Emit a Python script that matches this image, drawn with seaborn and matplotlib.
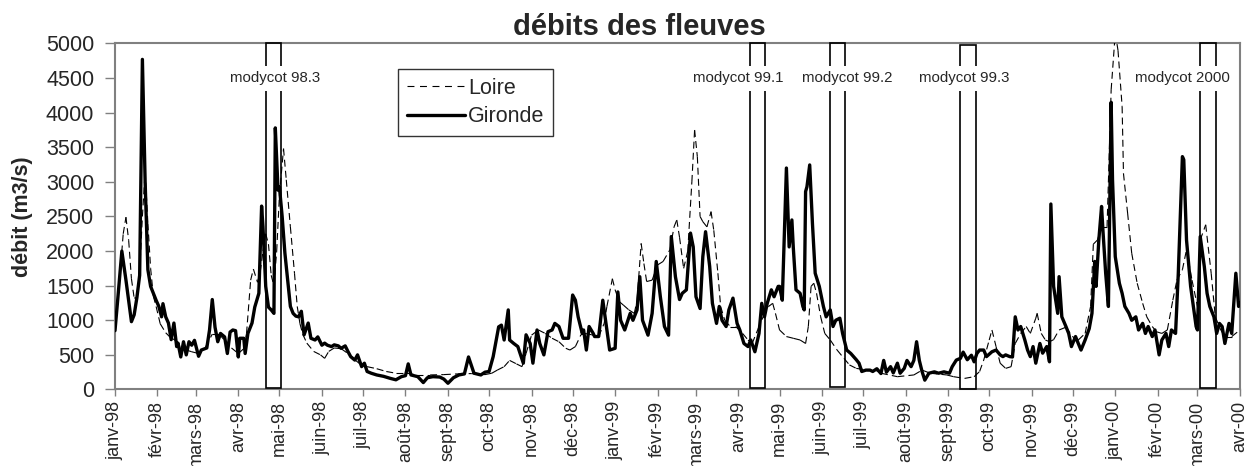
import numpy as np
import pandas as pd
import matplotlib
matplotlib.use('Agg')
import matplotlib.pyplot as plt
import matplotlib.dates as mdates
from matplotlib.lines import Line2D
from matplotlib.patches import Rectangle
import seaborn as sns

start = pd.Timestamp('1998-01-01')

# jours depuis le 1er janvier 1998, débits en m3/s
gironde_day = [0, 2, 5, 8, 12, 14, 16, 18, 20, 22, 24, 26, 28, 30, 32, 34, 35, 37, 39, 41, 43, 45, 46, 48, 50,
               52, 54, 56, 58, 61, 63, 67, 69, 71, 73, 75, 77, 80, 82, 84, 86, 88, 90, 91, 94, 95, 97, 100, 102,
               105, 107, 108, 110, 112, 114, 116, 117, 119, 120, 122, 124, 126, 128, 130, 132, 134, 136, 138, 141,
               143, 146, 148, 151, 153, 155, 158, 160, 163, 165, 168, 170, 172, 175, 177, 180, 182, 184, 187, 191,
               196, 201, 205, 209, 212, 214, 216, 221, 225, 228, 232, 237, 240, 243, 247, 251, 255, 258, 262, 267,
               270, 273, 276, 280, 282, 284, 287, 288, 291, 294, 298, 300, 303, 305, 308, 310, 313, 316, 319, 321,
               324, 327, 331, 334, 336, 338, 341, 342, 344, 346, 349, 350, 353, 356, 359, 361, 365, 367, 369, 372,
               376, 378, 381, 383, 385, 389, 392, 395, 398, 401, 404, 406, 409, 412, 414, 417, 420, 422, 424, 427,
               429, 431, 434, 436, 439, 441, 443, 446, 448, 451, 454, 456, 459, 462, 464, 467, 470, 472, 474, 476,
               479, 481, 484, 485, 487, 490, 492, 494, 495, 497, 500, 502, 503, 504, 505, 507, 509, 511, 514, 517,
               519, 522, 524, 526, 529, 531, 534, 537, 541, 543, 545, 548, 551, 553, 556, 559, 561, 563, 566, 568,
               571, 573, 576, 578, 581, 583, 585, 587, 589, 591, 594, 598, 601, 605, 609, 611, 614, 617, 619, 622,
               625, 627, 629, 631, 634, 636, 640, 643, 646, 648, 650, 653, 655, 657, 659, 661, 664, 666, 668, 670,
               672, 675, 677, 680, 682, 683, 685, 688, 689, 691, 694, 696, 698, 701, 703, 705, 708, 711, 713, 715,
               716, 718, 720, 721, 723, 725, 727, 728, 730, 733, 735, 737, 740, 742, 745, 747, 750, 752, 754, 757,
               759, 762, 764, 767, 769, 771, 774, 776, 779, 780, 782, 785, 787, 789, 790, 792, 795, 797, 799, 802,
               804, 806, 808, 810, 813, 815, 818, 820, 821]
gironde_q = [850, 1300, 2000, 1580, 980, 1080, 1330, 1650, 4770, 3000, 1730, 1490, 1390, 1290, 1200, 1050, 1240,
             1050, 960, 720, 960, 620, 670, 470, 690, 500, 690, 640, 710, 480, 570, 600, 860, 1300, 900, 690, 810,
             760, 520, 830, 860, 850, 470, 740, 740, 520, 810, 960, 1190, 1390, 2650, 2350, 1490, 1190, 1150, 1100,
             3780, 2880, 2930, 2500, 1970, 1580, 1200, 1100, 1060, 1050, 1130, 790, 960, 740, 715, 760, 640, 670,
             640, 620, 645, 630, 595, 630, 550, 475, 425, 500, 330, 380, 260, 235, 210, 190, 160, 140, 185, 200,
             370, 210, 185, 100, 170, 185, 180, 150, 90, 170, 210, 225, 470, 235, 210, 250, 260, 475, 905, 930, 715,
             1150, 715, 665, 620, 380, 790, 665, 380, 860, 665, 500, 835, 860, 955, 910, 740, 740, 1365, 1290, 1050,
             810, 860, 570, 910, 810, 765, 765, 1290, 860, 570, 595, 1410, 1000, 860, 1100, 1000, 1150, 1630, 1000,
             785, 1100, 1850, 1340, 910, 785, 2210, 1630, 1300, 1390, 1440, 2260, 2060, 1340, 1170, 1920, 2280, 1780,
             1245, 955, 1200, 1000, 910, 1150, 1320, 955, 860, 665, 620, 715, 545, 810, 1245, 1050, 1245, 1440, 1340,
             1490, 1490, 1290, 3200, 2060, 2450, 2060, 1440, 1390, 1200, 1150, 2860, 2930, 3245, 2400, 1680, 1490,
             1200, 1050, 1150, 910, 1000, 1030, 810, 570, 520, 430, 380, 260, 280, 280, 260, 300, 230, 420, 250, 330,
             240, 380, 235, 305, 420, 330, 420, 690, 420, 260, 135, 235, 255, 235, 255, 235, 330, 425, 450, 540, 430,
             495, 400, 520, 570, 570, 475, 545, 570, 500, 475, 500, 475, 470, 1050, 860, 910, 715, 570, 475, 620,
             380, 665, 525, 620, 400, 2680, 1490, 1100, 1630, 1050, 910, 810, 620, 765, 665, 570, 715, 880, 1100,
             1850, 1490, 2160, 2645, 2300, 1680, 1200, 4150, 3030, 1920, 1535, 1390, 1200, 1100, 1000, 1050, 860,
             955, 810, 910, 765, 860, 500, 715, 810, 620, 860, 810, 1680, 3365, 3320, 2160, 1490, 1200, 910, 860,
             2210, 1775, 1390, 1200, 1050, 810, 955, 910, 665, 955, 810, 1680, 1200, 1245]

loire_day = [0, 3, 6, 8, 10, 12, 14, 16, 18, 20, 22, 24, 26, 28, 30, 33, 37, 40, 44, 48, 52, 56, 61, 66, 71, 76,
             80, 85, 90, 94, 96, 99, 101, 104, 106, 108, 110, 112, 114, 116, 118, 120, 123, 125, 128, 131, 133, 135,
             137, 140, 145, 150, 153, 156, 160, 165, 170, 175, 180, 184, 191, 198, 205, 213, 220, 230, 240, 250, 260,
             270, 275, 279, 284, 288, 293, 297, 300, 304, 309, 314, 319, 324, 329, 332, 336, 340, 343, 348, 353, 357,
             359, 363, 365, 368, 371, 375, 379, 381, 384, 386, 388, 392, 396, 400, 405, 408, 410, 412, 415, 418, 421,
             423, 425, 427, 429, 432, 435, 437, 440, 442, 445, 449, 453, 458, 462, 465, 469, 473, 477, 480, 482, 485,
             490, 495, 500, 504, 506, 508, 510, 512, 515, 518, 522, 527, 532, 536, 541, 549, 555, 559, 571, 583, 589,
             595, 607, 612, 620, 627, 631, 634, 638, 640, 643, 646, 650, 654, 657, 661, 665, 668, 672, 673, 676, 679,
             682, 685, 689, 694, 699, 703, 708, 712, 714, 717, 720, 724, 727, 730, 732, 735, 736, 739, 742, 746, 750,
             753, 757, 760, 764, 768, 772, 775, 779, 782, 786, 790, 792, 796, 800, 803, 807, 810, 815, 821]
loire_q = [850, 1500, 2250, 2490, 2150, 1600, 1320, 1330, 1700, 2500, 3150, 2400, 1750, 1350, 1200, 950, 820, 760,
           710, 620, 570, 545, 520, 610, 800, 800, 710, 600, 520, 590, 810, 1580, 1740, 1550, 1700, 2000, 2250, 2100,
           1650, 1500, 2000, 2800, 3480, 3030, 2350, 1680, 1200, 950, 800, 670, 550, 500, 450, 550, 600, 590, 520,
           430, 350, 330, 300, 260, 235, 235, 210, 210, 215, 225, 230, 215, 235, 280, 330, 420, 370, 330, 520, 785,
           860, 810, 740, 690, 595, 570, 620, 790, 810, 790, 765, 955, 1200, 1600, 1440, 1270, 1220, 1150, 1100,
           1290, 2110, 1820, 1560, 1580, 1800, 1850, 2020, 2350, 2450, 2200, 1750, 2000, 3000, 3750, 3365, 2500,
           2425, 2350, 2570, 2300, 1680, 1200, 1000, 910, 910, 810, 715, 665, 860, 1050, 1200, 1245, 1100, 860, 765,
           740, 715, 665, 910, 1490, 1535, 1390, 1050, 810, 715, 570, 450, 355, 305, 280, 280, 235, 185, 210, 280,
           235, 210, 185, 160, 185, 260, 425, 715, 860, 620, 380, 305, 330, 665, 810, 910, 810, 1030, 1100, 810, 715,
           690, 720, 860, 900, 760, 715, 810, 1200, 2100, 2160, 2350, 2350, 4330, 5150, 4900, 4090, 3120, 2550, 1970,
           1535, 1245, 1050, 910, 835, 810, 860, 1290, 1580, 1730, 2020, 1580, 1200, 2160, 2380, 1680, 1050, 860,
           765, 765, 860]

mois = ['janv', 'févr', 'mars', 'avr', 'mai', 'juin', 'juil', 'août', 'sept', 'oct', 'nov', 'déc']

campagnes = ['modycot 98.3', 'modycot 99.1', 'modycot 99.2', 'modycot 99.3', 'modycot 2000']
camp_debut = [110.2, 463.5, 521.9, 617.0, 791.5]
camp_fin = [121.2, 474.5, 533.0, 628.3, 803.6]
camp_haut = [5000, 5000, 5010, 4980, 5000]
camp_bas = [20, 25, 40, 0, 25]
camp_label_day = [116.8, 454.5, 534.7, 619.7, 778.8]


def to_dates(days):
    return start + pd.to_timedelta(np.asarray(days, dtype=float), unit='D')


gironde_df = pd.DataFrame({'date': to_dates(gironde_day), 'debit': gironde_q})

# Loire: one piece per segment so the dash pattern restarts (Excel look)
seg_rows = []
for i in range(len(loire_day) - 1):
    for j in (i, i + 1):
        seg_rows.append({'seg': i, 'day': loire_day[j], 'debit': loire_q[j]})
loire_df = pd.DataFrame(seg_rows)
loire_df['date'] = to_dates(loire_df['day'])

sns.set_style('white')
plt.rcParams['font.family'] = ['Liberation Sans', 'DejaVu Sans']
plt.rcParams['lines.scale_dashes'] = False

fig = plt.figure(figsize=(12.54, 4.66), dpi=100)
ax = fig.add_axes([0.0917, 0.1642, 0.8971, 0.7425])

sns.lineplot(data=loire_df, x='date', y='debit', units='seg', estimator=None, color='black',
             lw=0.8, linestyle=(0, (5, 3)), legend=False, ax=ax, zorder=3)
sns.lineplot(data=gironde_df, x='date', y='debit', color='black', lw=2.4, legend=False, ax=ax, zorder=4)

for deb, fin, haut, bas in zip(camp_debut, camp_fin, camp_haut, camp_bas):
    x0 = mdates.date2num(to_dates([deb])[0])
    x1 = mdates.date2num(to_dates([fin])[0])
    ax.add_patch(Rectangle((x0, bas), x1 - x0, haut - bas, fill=False, ec='black', lw=1.2, zorder=5,
                           clip_on=False))

for lab, d in zip(campagnes, camp_label_day):
    ax.text(to_dates([d])[0], 4500, lab, ha='center', va='center', fontsize=10.8, zorder=6,
            bbox=dict(facecolor='white', edgecolor='none', pad=4))

ticks = pd.date_range('1998-01-01', '2000-04-01', freq='MS')
ax.set_xticks(ticks)
ax.set_xticklabels([f"{mois[t.month - 1]}-{t.strftime('%y')}" for t in ticks])
ax.set_xlim(ticks[0], ticks[-1])
ax.set_ylim(0, 5000)
ax.set_yticks(np.arange(0, 5001, 500))

ax.tick_params(axis='x', labelrotation=90, labelsize=13, length=5, width=1, color='#808080', pad=3,
               bottom=True)
ax.tick_params(axis='y', labelsize=15.5, length=7, width=1, color='#808080', pad=8, left=True)
for sp in ax.spines.values():
    sp.set_color('#808080')
    sp.set_linewidth(1.5)

ax.set_xlabel('')
ax.set_ylabel('débit (m3/s)', fontsize=15.5, fontweight='bold')
ax.yaxis.set_label_coords(-0.073, 0.5)

handles = [Line2D([], [], color='black', lw=0.8, linestyle=(0, (5, 4))),
           Line2D([], [], color='black', lw=2.4)]
leg = ax.legend(handles, ['Loire', 'Gironde'], loc='upper left', bbox_to_anchor=(0.2516, 0.926),
                borderaxespad=0, frameon=True, fancybox=False, fontsize=15.5, handlelength=2.7,
                handletextpad=0.15, borderpad=0.4, labelspacing=0.35)
leg.get_frame().set_edgecolor('black')
leg.get_frame().set_linewidth(1.0)
leg.set_zorder(7)

fig.text(0.51, 0.925, 'débits des fleuves', ha='center', va='baseline', fontsize=21, fontweight='bold')

fig.savefig('out.png', dpi=100)
